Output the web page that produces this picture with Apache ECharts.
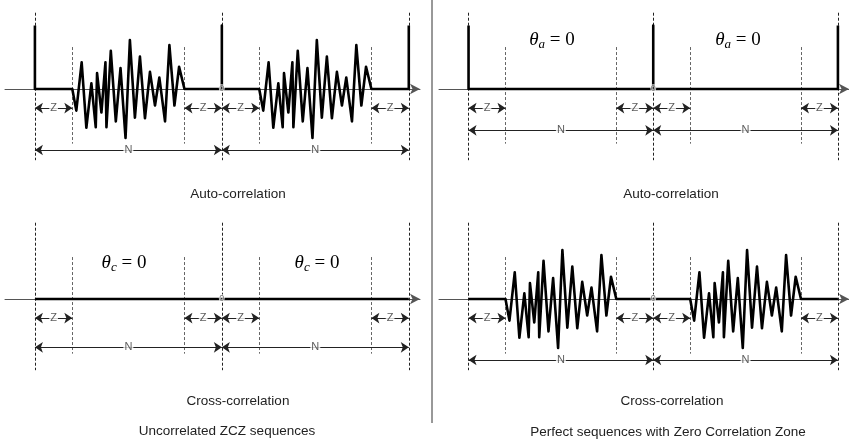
<!DOCTYPE html>
<html>
<head>
<meta charset="utf-8">
<title>ZCZ correlation</title>
<script src="https://cdn.jsdelivr.net/npm/echarts@6/dist/echarts.min.js"></script>
<style>
html,body{margin:0;padding:0;background:#fff;}
#chart{width:849px;height:444px;}
</style>
</head>
<body>
<div id="chart"></div>
<script>
// period and zero correlation zone, in lags
var N = 10;
var Z = 2;
// main peak of the auto-correlation
var peakHeight = 1;
// sidelobe shape, offset from the zone edge / value
var sideOffset = [0, 0.215, 0.501, 0.752, 1.021, 1.254, 1.325, 1.558, 1.773, 1.827, 2.060, 2.328, 2.579,
    2.848, 3.081, 3.349, 3.618, 3.887, 4.155, 4.424, 4.657, 4.961, 5.194, 5.463, 5.713, 6.0];
var sideValue = [0, -0.34, 0.42, -0.61, 0.09, -0.60, 0.25, -0.37, 0.42, -0.60, 0.60, -0.51, 0.33,
    -0.77, 0.77, -0.45, 0.51, -0.46, 0.27, -0.26, 0.18, -0.51, 0.69, -0.26, 0.35, 0];

// panels: top-left, top-right, bottom-left, bottom-right
var panelTitles = ['Auto-correlation', 'Auto-correlation', 'Cross-correlation', 'Cross-correlation'];
var groupTitles = ['Uncorrelated ZCZ sequences', 'Perfect sequences with Zero Correlation Zone'];
var hasPeak = [true, true, false, false];
var hasSide = [true, false, false, true];
var thetaSub = [null, 'a', 'c', null];
var originLabel = '0';

var gridLeft = [5, 439, 5, 439];
var gridTop = [0, 0, 210, 210];
var nArrowY = [-0.96, -0.65, -0.76, -0.96];
var zArrowY = -0.30;

function addSide(d, start) {
    for (var i = 0; i < sideOffset.length; i++) {
        d.push([start + sideOffset[i], sideValue[i]]);
    }
}

// correlation values over one period either side of 0
function buildSignal(p) {
    var d = [];
    if (hasPeak[p]) d.push([-N, peakHeight]);
    d.push([-N, 0]);
    if (hasSide[p]) addSide(d, -N + Z);
    d.push([0, 0]);
    if (hasPeak[p]) {
        d.push([0, peakHeight]);
        d.push([0, 0]);
    }
    if (hasSide[p]) addSide(d, Z);
    d.push([N, 0]);
    if (hasPeak[p]) d.push([N, peakHeight]);
    return d;
}

function dashLines() {
    var d = [];
    [-N, 0, N].forEach(function (x) {
        d.push([{coord: [x, 1.2]}, {coord: [x, -1.12]}]);
    });
    [-N + Z, -Z, Z, N - Z].forEach(function (x) {
        d.push([{coord: [x, 0.66], lineStyle: {color: '#666'}}, {coord: [x, -0.86]}]);
    });
    return d;
}

function spans(p) {
    var ny = nArrowY[p];
    return [[-N, -N + Z, 'Z', zArrowY], [-Z, 0, 'Z', zArrowY], [0, Z, 'Z', zArrowY], [N - Z, N, 'Z', zArrowY],
        [-N, 0, 'N', ny], [0, N, 'N', ny]];
}

var grids = [], xAxes = [], yAxes = [], series = [];
for (var p = 0; p < 4; p++) {
    grids.push({left: gridLeft[p], top: gridTop[p], width: 415, height: 178});
    xAxes.push({
        type: 'value', gridIndex: p, min: -11.6, max: 10.6,
        axisLine: {show: true, onZero: true, symbol: ['none', 'arrow'], symbolSize: [8, 10],
            lineStyle: {color: '#555', width: 1}},
        axisTick: {show: false},
        splitLine: {show: false},
        axisLabel: {show: false}
    });
    yAxes.push({type: 'value', gridIndex: p, min: -1.4, max: 1.4, show: false});

    series.push({
        type: 'line', xAxisIndex: p, yAxisIndex: p,
        data: buildSignal(p),
        symbol: 'none', silent: true, z: 5,
        lineStyle: {color: '#000', width: 2.6, join: 'round'},
        markLine: {
            silent: true, symbol: 'none', animation: false,
            label: {show: false},
            lineStyle: {color: '#222', width: 1, type: [3, 2]},
            data: dashLines()
        }
    });
    var sp = spans(p);
    series.push({
        type: 'line', xAxisIndex: p, yAxisIndex: p, data: [],
        markLine: {
            silent: true, symbol: ['arrow', 'arrow'], symbolSize: 8, animation: false,
            lineStyle: {color: '#222', width: 1, type: 'solid'},
            label: {show: false},
            data: sp.map(function (s) {
                return [{coord: [s[0], s[3]]}, {coord: [s[1], s[3]]}];
            })
        }
    });
    // Z / N names in the middle of each span
    series.push({
        type: 'scatter', xAxisIndex: p, yAxisIndex: p, symbolSize: 0, silent: true, z: 8,
        data: sp.map(function (s) {
            return {value: [(s[0] + s[1]) / 2, s[3]], name: s[2]};
        }),
        label: {show: true, position: 'inside', formatter: '{b}', color: '#333', fontSize: 11,
            fontFamily: 'Liberation Sans', backgroundColor: '#fff', padding: [0, 1]}
    });
    // origin mark sitting on the axis
    series.push({
        type: 'scatter', xAxisIndex: p, yAxisIndex: p, symbolSize: 1, silent: true, z: 9,
        itemStyle: {color: 'transparent'},
        data: [[0, 0]],
        label: {show: true, position: 'inside', formatter: function () { return originLabel; },
            color: '#555', fontSize: 9, fontFamily: 'Liberation Sans',
            textBorderColor: '#fff', textBorderWidth: 1.5}
    });
}

var textFont = 'Liberation Sans';
var graphics = [
    {type: 'line', shape: {x1: 432, y1: 0, x2: 432, y2: 423}, style: {stroke: '#333', lineWidth: 1}}
];
var titlePos = [[238, 194], [671, 194], [238, 401], [672, 401]];
panelTitles.forEach(function (t, i) {
    graphics.push({type: 'text', x: titlePos[i][0], y: titlePos[i][1],
        style: {text: t, align: 'center', verticalAlign: 'middle', fontSize: 13.5, fontFamily: textFont, fill: '#222'}});
});
var groupPos = [[227, 431], [668, 432]];
groupTitles.forEach(function (t, i) {
    graphics.push({type: 'text', x: groupPos[i][0], y: groupPos[i][1],
        style: {text: t, align: 'center', verticalAlign: 'middle', fontSize: 13.5, fontFamily: textFont, fill: '#222'}});
});

// theta = 0 notes
var thetaPos = {1: [[552, 40], [738, 40]], 2: [[124, 263], [317, 263]]};
[1, 2].forEach(function (p) {
    thetaPos[p].forEach(function (pos) {
        graphics.push({type: 'text', x: pos[0], y: pos[1],
            style: {
                text: '{t|θ}{s|' + thetaSub[p] + '}{e| = 0}',
                align: 'center', verticalAlign: 'middle', fill: '#000',
                rich: {
                    t: {fontFamily: 'Liberation Serif', fontStyle: 'italic', fontSize: 19, lineHeight: 22, verticalAlign: 'middle'},
                    s: {fontFamily: 'Liberation Serif', fontStyle: 'italic', fontSize: 13, lineHeight: 14, verticalAlign: 'bottom'},
                    e: {fontFamily: 'Liberation Serif', fontSize: 19, lineHeight: 22, verticalAlign: 'middle'}
                }
            }});
    });
});

var chart = echarts.init(document.getElementById('chart'));
chart.setOption({
    animation: false,
    backgroundColor: '#fff',
    grid: grids,
    xAxis: xAxes,
    yAxis: yAxes,
    series: series,
    graphic: graphics
});
</script>
</body>
</html>
